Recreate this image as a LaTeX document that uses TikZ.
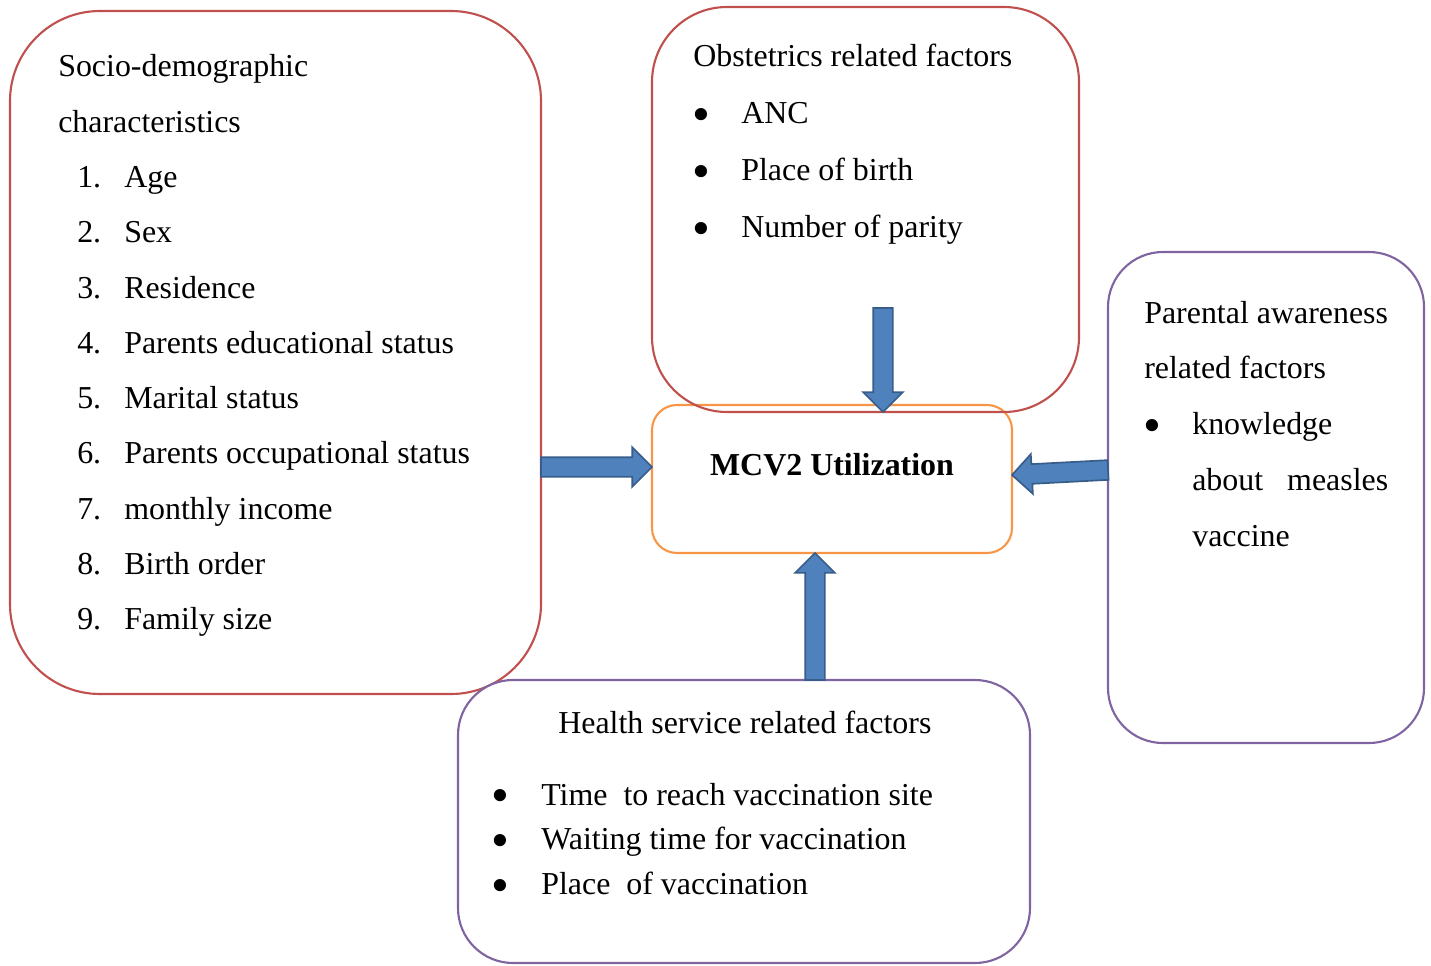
\documentclass[tikz,border=0pt]{standalone}
\usepackage{graphicx}
\usepackage{fontspec}
\setmainfont{Liberation Serif}
\usetikzlibrary{shapes.arrows,calc}
\newlength\pxu
\setlength\pxu{0.025cm}
\definecolor{socred}   {HTML}{C0504D}
\definecolor{parpurple}{HTML}{8064A2}
\definecolor{mcvorange}{HTML}{F79646}
\definecolor{arrfill}  {HTML}{4F81BD}
\definecolor{arrline}  {HTML}{385D8A}
\newcommand\bigbul{\hspace*{-4\pxu}\smash{\raisebox{-5.5pt}{\scalebox{1.6}{\textbullet}}}\hspace*{4\pxu}}
\newcommand\numitem[1]{\hspace*{19\pxu}\makebox[47\pxu][l]{#1}}
\newcommand\bulitem{\hspace*{3\pxu}\makebox[45\pxu][l]{\bigbul}}

\begin{document}
\begin{tikzpicture}[x=0.025cm,y=-0.025cm,
  box/.style={draw,line width=1.5pt,inner sep=0pt,outer sep=0pt},
  redbox/.style={box,draw=socred},
  purplebox/.style={box,draw=parpurple},
  txt/.style={anchor=base west,inner sep=0pt,font=\fontsize{22.7}{39.3pt}\selectfont},
  arrowshape/.style={single arrow,draw=arrline,fill=arrfill,line width=1.2pt,
              inner xsep=0pt,inner ysep=9\pxu,outer sep=0pt,minimum width=0pt,
              single arrow head extend=10\pxu,single arrow tip angle=90},
  blockarrow/.style={to path={let \p1=(\tikztostart),\p2=(\tikztotarget),
              \n1={atan2(\y2-\y1,\x2-\x1)},\n2={veclen(\x2-\x1,\y2-\y1)} in
              node[arrowshape,minimum height=\n2,rotate=\n1,anchor=tail] at (\tikztostart) {}}}
]
\useasboundingbox (0,0) rectangle (1431,965);

% boxes
\node[redbox,rounded corners=90\pxu,minimum width=531\pxu,minimum height=683\pxu] (socio) at (275.5,352.5) {};
\node[purplebox,fill=white,rounded corners=55\pxu,minimum width=572\pxu,minimum height=283\pxu] (health) at (744,821.5) {};
\node[box,draw=mcvorange,rounded corners=25\pxu,minimum width=360\pxu,minimum height=148\pxu] (mcv) at (832,479) {};
\node[redbox,rounded corners=75\pxu,minimum width=427\pxu,minimum height=405\pxu] (obst) at (865.5,209.5) {};
\node[purplebox,rounded corners=55\pxu,minimum width=316\pxu,minimum height=491\pxu] (parent) at (1266,497.5) {};

% texts
\node[txt] (sociotxt) at (58,77) {\begin{tabular}[t]{@{}l@{}}
  Socio-demographic\\
  characteristics\\
  \numitem{1.}Age\\
  \numitem{2.}Sex\\
  \numitem{3.}Residence\\
  \numitem{4.}Parents educational status\\
  \numitem{5.}Marital status\\
  \numitem{6.}Parents occupational status\\
  \numitem{7.}monthly income\\
  \numitem{8.}Birth order\\
  \numitem{9.}Family size
\end{tabular}};
\node[txt,font=\fontsize{22.7}{40.5pt}\selectfont] (obsttxt) at (693,67) {\begin{tabular}[t]{@{}l@{}}
  Obstetrics related factors\\
  \bulitem ANC\\
  \bulitem Place of birth\\
  \bulitem Number of parity
\end{tabular}};
\node[txt,font=\fontsize{22.7}{39.8pt}\selectfont] (parenttxt) at (1144,323) {\begin{tabular}[t]{@{}l@{}}
  Parental awareness\\
  related factors\\
  \bulitem knowledge\\
  \hspace*{48\pxu}about\hspace*{24\pxu}measles\\
  \hspace*{48\pxu}vaccine
\end{tabular}};
\node[txt,font=\fontsize{22.7}{31.7pt}\selectfont] (healthtxt) at (495,733) {\begin{tabular}[t]{@{}l@{}}
  \hspace*{63\pxu}Health service related factors\\[19.6pt]
  \makebox[46\pxu][l]{\bigbul}Time\hspace*{16\pxu}to reach vaccination site\\
  \makebox[46\pxu][l]{\bigbul}Waiting time for vaccination\\
  \makebox[46\pxu][l]{\bigbul}Place\hspace*{16\pxu}of vaccination
\end{tabular}};
\node[anchor=base,inner sep=0pt,font=\bfseries\fontsize{22.7}{27}\selectfont] (mcvtxt) at (832,475) {MCV2 Utilization};

% arrows
\path (socio.east |- 0,467) to[blockarrow] (mcv.west |- 0,467);
\path (parent.west |- 0,470) to[blockarrow] (mcv.east |- 0,475);
\path (health.north -| 815,0) to[blockarrow] (mcv.south -| 815,0);
\path (obst.south -| 883,0) ++(0,-104) coordinate (obsttail) (obsttail) to[blockarrow] (obst.south -| 883,0);
\end{tikzpicture}
\end{document}
